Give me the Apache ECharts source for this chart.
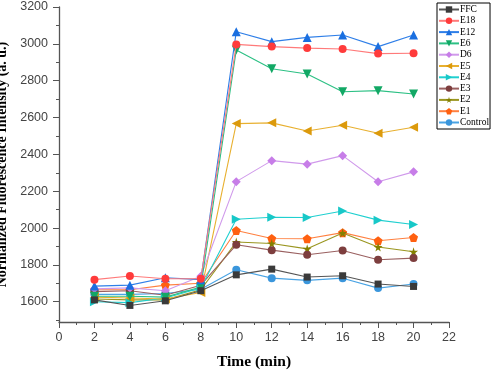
<!DOCTYPE html>
<html><head><meta charset="utf-8">
<script src="https://cdn.jsdelivr.net/npm/echarts@6/dist/echarts.min.js"></script>
<style>html,body{margin:0;padding:0;background:#fff}#c{width:491px;height:371px}</style>
</head><body><div id="c"></div>
<script>
const times = [2, 4, 6, 8, 10, 12, 14, 16, 18, 20];
const seriesNames = ['FFC','E18','E12','E6','D6','E5','E4','E3','E2','E1','Control'];
const FFC     = [1610,1580,1605,1660,1746,1777,1734,1741,1696,1683];
const E18     = [1720,1740,1725,1725,2997,2985,2977,2972,2947,2949];
const E12     = [1685,1690,1730,1720,3066,3012,3035,3048,2985,3048];
const E6      = [1630,1630,1625,1680,2967,2865,2836,2740,2746,2728];
const D6      = [1670,1675,1660,1738,2252,2366,2347,2393,2251,2305];
const E5      = [1625,1620,1615,1650,2567,2571,2527,2558,2515,2547];
const E4      = [1600,1595,1620,1675,2048,2059,2057,2093,2043,2019];
const E3      = [1655,1660,1635,1690,1909,1880,1855,1878,1828,1837];
const E2      = [1615,1610,1610,1665,1924,1916,1887,1973,1897,1871];
const E1      = [1665,1665,1690,1700,1987,1943,1942,1975,1931,1949];
const Control = [1640,1640,1645,1668,1774,1728,1716,1728,1674,1696];
const yLabels = [1600,1800,2000,2200,2400,2600,2800,3000,3200];
const yMinor  = [1500,1700,1900,2100,2300,2500,2700,2900,3100];
const xLabels = [0,2,4,6,8,10,12,14,16,18,20,22];
const xMinor  = [1,3,5,7,9,11,13,15,17,19,21];

const values = [FFC,E18,E12,E6,D6,E5,E4,E3,E2,E1,Control];
const STAR = 'path://M50,0 L61,35 L98,35 L68,57 L79,91 L50,70 L21,91 L32,57 L2,35 L39,35 Z';
const PENT = 'path://M50,0 L98,35 L79,91 L21,91 L2,35 Z';
const styles = [
  {c:'#3a3a3a', l:'#555555', s:'rect', size:7, rot:0},
  {c:'#ff3b3b', l:'#ff7a7a', s:'circle', size:8, rot:0},
  {c:'#1a6fe0', l:'#2f7fe8', s:'triangle', size:9, rot:0},
  {c:'#12a865', l:'#2cc084', s:'triangle', size:9, rot:180},
  {c:'#c77de8', l:'#d09aeb', s:'diamond', size:9, rot:0},
  {c:'#dc9a0c', l:'#e8b030', s:'triangle', size:9, rot:90},
  {c:'#18c8c8', l:'#20d0d0', s:'triangle', size:9, rot:-90},
  {c:'#7d3e3e', l:'#9a6060', s:'circle', size:8, rot:0},
  {c:'#848000', l:'#9a9620', s:STAR, size:9, rot:0},
  {c:'#ff6010', l:'#ff8040', s:PENT, size:9, rot:0},
  {c:'#3a96dc', l:'#4aa4e4', s:'circle', size:8, rot:0}
];

const series = seriesNames.map((n,i)=>({
  name:n, type:'line',
  data: times.map((t,j)=>[t, values[i][j]]),
  symbol: styles[i].s, symbolSize: styles[i].size, symbolRotate: styles[i].rot,
  showAllSymbol:true,
  itemStyle:{color: styles[i].c},
  lineStyle:{color: styles[i].l, width:1.1},
  z: 20 - i
}));

const chart = echarts.init(document.getElementById('c'), null, {renderer:'canvas'});
const axisFont = {fontFamily:'Liberation Sans, Arial, sans-serif', fontSize:12.5, color:'#444', formatter: v => String(v)};
chart.setOption({
  animation:false,
  backgroundColor:'#fff',
  grid:{left:59, right:42, top:7, bottom:49, containLabel:false, outerBoundsMode:'none'},
  legend:{
    data: seriesNames,
    orient:'vertical', left:437, top:3,
    itemWidth:20, itemHeight:8, itemGap:0.3,
    padding:[1,1,1,1],
    borderColor:'#000', borderWidth:1, backgroundColor:'#fff',
    textStyle:{fontFamily:'Liberation Serif, Times New Roman, serif', fontSize:9.5, lineHeight:11, color:'#000', padding:[0,0,0,-4]},
    z:50
  },
  xAxis:[{
    type:'value', min:0, max:22,
    name:'Time (min)', nameLocation:'middle', nameGap:32, nameMoveOverlap:false,
    nameTextStyle:{fontFamily:'Liberation Serif, Times New Roman, serif', fontWeight:'bold', fontSize:15.5, color:'#000'},
    axisLine:{show:true, onZero:false, lineStyle:{color:'#555', width:1.3}},
    axisTick:{show:true, inside:false, length:6, customValues:xLabels, lineStyle:{color:'#555'}},
    axisLabel:{...axisFont, margin:9, customValues:xLabels},
    splitLine:{show:false}
  },{
    type:'value', min:0, max:22, position:'bottom',
    axisLine:{show:false},
    axisTick:{show:true, length:3, customValues:xMinor, lineStyle:{color:'#555'}},
    axisLabel:{show:false}, splitLine:{show:false}
  }],
  yAxis:[{
    type:'value', min:1490, max:3200,
    name:'Normalized Fluorescence Intensity (a. u.)', nameLocation:'middle', nameGap:50, nameMoveOverlap:false,
    nameTextStyle:{fontFamily:'Liberation Serif, Times New Roman, serif', fontWeight:'bold', fontSize:14, color:'#000'},
    axisLine:{show:true, onZero:false, lineStyle:{color:'#555', width:1.3}},
    axisTick:{show:true, inside:false, length:6, customValues:yLabels, lineStyle:{color:'#555'}},
    axisLabel:{...axisFont, margin:11, customValues:yLabels},
    splitLine:{show:false}
  },{
    type:'value', min:1490, max:3200, position:'left',
    axisLine:{show:false},
    axisTick:{show:true, length:3, customValues:yMinor, lineStyle:{color:'#555'}},
    axisLabel:{show:false}, splitLine:{show:false}
  }],
  series: series
});
</script></body></html>
